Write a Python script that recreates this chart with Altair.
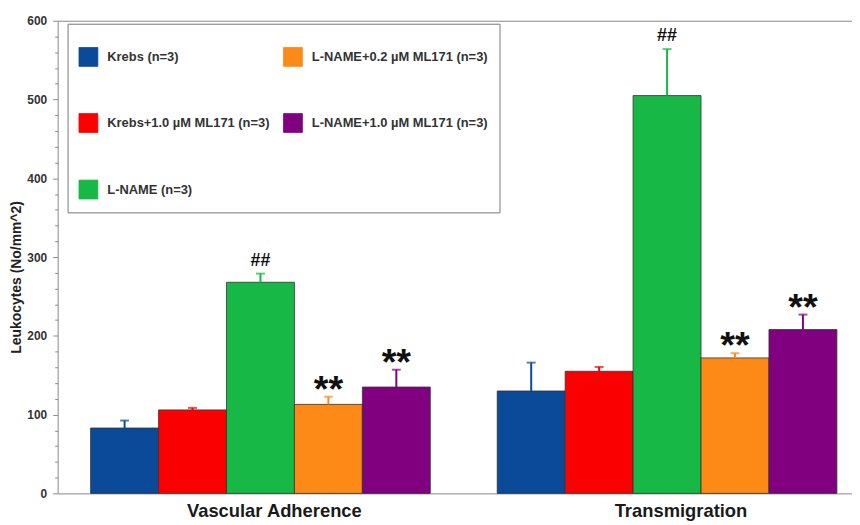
import altair as alt
import pandas as pd

groups = ["Vascular Adherence", "Transmigration"]
treatments = [
    "Krebs (n=3)",
    "Krebs+1.0 µM ML171 (n=3)",
    "L-NAME (n=3)",
    "L-NAME+0.2 µM ML171 (n=3)",
    "L-NAME+1.0 µM ML171 (n=3)",
]
colors = ["#0a4a98", "#fb0000", "#17b845", "#fd8a17", "#800080"]

adherence_mean = [83, 106, 268, 113, 135]
adherence_err = [9.5, 2.5, 11, 9.7, 22]
transmig_mean = [130, 155, 505, 172, 208]
transmig_err = [36, 5.5, 59, 6, 19]
adherence_sig = ["", "", "##", "**", "**"]
transmig_sig = ["", "", "##", "**", "**"]

y_ticks = [0, 100, 200, 300, 400, 500, 600]
y_minor = [v for v in range(20, 600, 20) if v % 100]

rows = []
for g, means, errs, sigs in [
    (groups[0], adherence_mean, adherence_err, adherence_sig),
    (groups[1], transmig_mean, transmig_err, transmig_sig),
]:
    for t, m, e, s in zip(treatments, means, errs, sigs):
        rows.append({"group": g, "treatment": t, "mean": m, "upper": m + e, "sig": s})
df = pd.DataFrame(rows)

FONT = "Liberation Sans, Arial, sans-serif"

xscale = alt.Scale(range=[0, 818], paddingInner=0.1646, paddingOuter=0.0811)
yscale = alt.Scale(domain=[0, 600], nice=False)
xoff = alt.XOffset("treatment:N", sort=treatments)

x_bottom = alt.Axis(
    orient="bottom", title=None, labelAngle=0, ticks=False, domainColor="#888",
    labelFontSize=18.5, labelFontWeight="bold", labelColor="#1a1a1a",
    labelPadding=8, labelOffset=14, labelFont=FONT,
)
x_top = alt.Axis(
    orient="top", title=None, labels=False, ticks=False, domain=True,
    domainColor="#888", grid=False,
)
y_major = alt.Axis(
    orient="left", values=y_ticks, title="Leukocytes (No/mm^2)", grid=False,
    tickSize=5, labelPadding=6, domainColor="#888", tickColor="#888",
    labelFontSize=12, labelFontWeight="bold", labelColor="#333", labelFont=FONT,
    titleFontSize=14, titleFontWeight="bold", titleColor="#222", titleFont=FONT,
    titlePadding=3, titleY=258,
)
y_minor_axis = alt.Axis(
    orient="left", values=y_minor, labels=False, domain=False, grid=False,
    tickSize=3, tickColor="#888", title=None, offset=0,
)

bars = alt.Chart(df).mark_bar(stroke="#333", strokeWidth=0.8).encode(
    x=alt.X("group:N", sort=groups, scale=xscale, axis=x_bottom),
    xOffset=xoff,
    y=alt.Y("mean:Q", scale=yscale, axis=y_major),
    color=alt.Color(
        "treatment:N",
        scale=alt.Scale(domain=treatments, range=colors),
        legend=alt.Legend(
            orient="none", legendX=10, legendY=3, columns=2, direction="vertical",
            title=" ", titleFontSize=1, titlePadding=11, padding=11,
            rowPadding=43, columnPadding=11, symbolType="square", symbolSize=361,
            symbolStrokeColor="#333", symbolStrokeWidth=0.8, symbolOpacity=1,
            labelFontSize=13, labelFontWeight="bold", labelColor="#333",
            labelFont=FONT, labelOffset=9, labelLimit=400,
            strokeColor="#777", fillColor="white",
        ),
    ),
)

errs = alt.Chart(df).mark_rule(strokeWidth=2).encode(
    x=alt.X("group:N", sort=groups, scale=xscale, axis=None),
    xOffset=xoff,
    y=alt.Y("mean:Q", scale=yscale, axis=y_minor_axis),
    y2="upper:Q",
    stroke=alt.Stroke("treatment:N", scale=alt.Scale(domain=treatments, range=colors), legend=None),
)

caps = alt.Chart(df).mark_tick(size=9, thickness=2).encode(
    x=alt.X("group:N", sort=groups, scale=xscale, axis=x_top),
    xOffset=xoff,
    y=alt.Y("upper:Q", scale=yscale, axis=None),
    fill=alt.Fill("treatment:N", scale=alt.Scale(domain=treatments, range=colors), legend=None),
)

hashes = alt.Chart(df).transform_filter(alt.datum.sig == "##").mark_text(
    fontSize=18, fontWeight="bold", font=FONT, baseline="alphabetic", dy=-8, color="#111"
).encode(
    x=alt.X("group:N", sort=groups, scale=xscale, axis=None),
    xOffset=xoff,
    y=alt.Y("upper:Q", scale=yscale, axis=None),
    text="sig:N",
)

stars = alt.Chart(df).transform_filter(alt.datum.sig == "**").mark_text(
    fontSize=38, fontWeight="bold", font=FONT, baseline="alphabetic", dy=5, color="#111"
).encode(
    x=alt.X("group:N", sort=groups, scale=xscale, axis=None),
    xOffset=xoff,
    y=alt.Y("upper:Q", scale=yscale, axis=None),
    text="sig:N",
)

chart = (
    alt.layer(bars, errs, caps, hashes, stars)
    .resolve_axis(x="independent", y="independent")
    .properties(
        width=800, height=476,
        autosize=alt.AutoSizeParams(type="none"),
        padding={"left": 50, "top": 11, "right": 0, "bottom": 30},
        background="white",
    )
    .configure_view(stroke=None)
)

chart.save("out.html", embed_options={"renderer": "svg", "actions": False})
